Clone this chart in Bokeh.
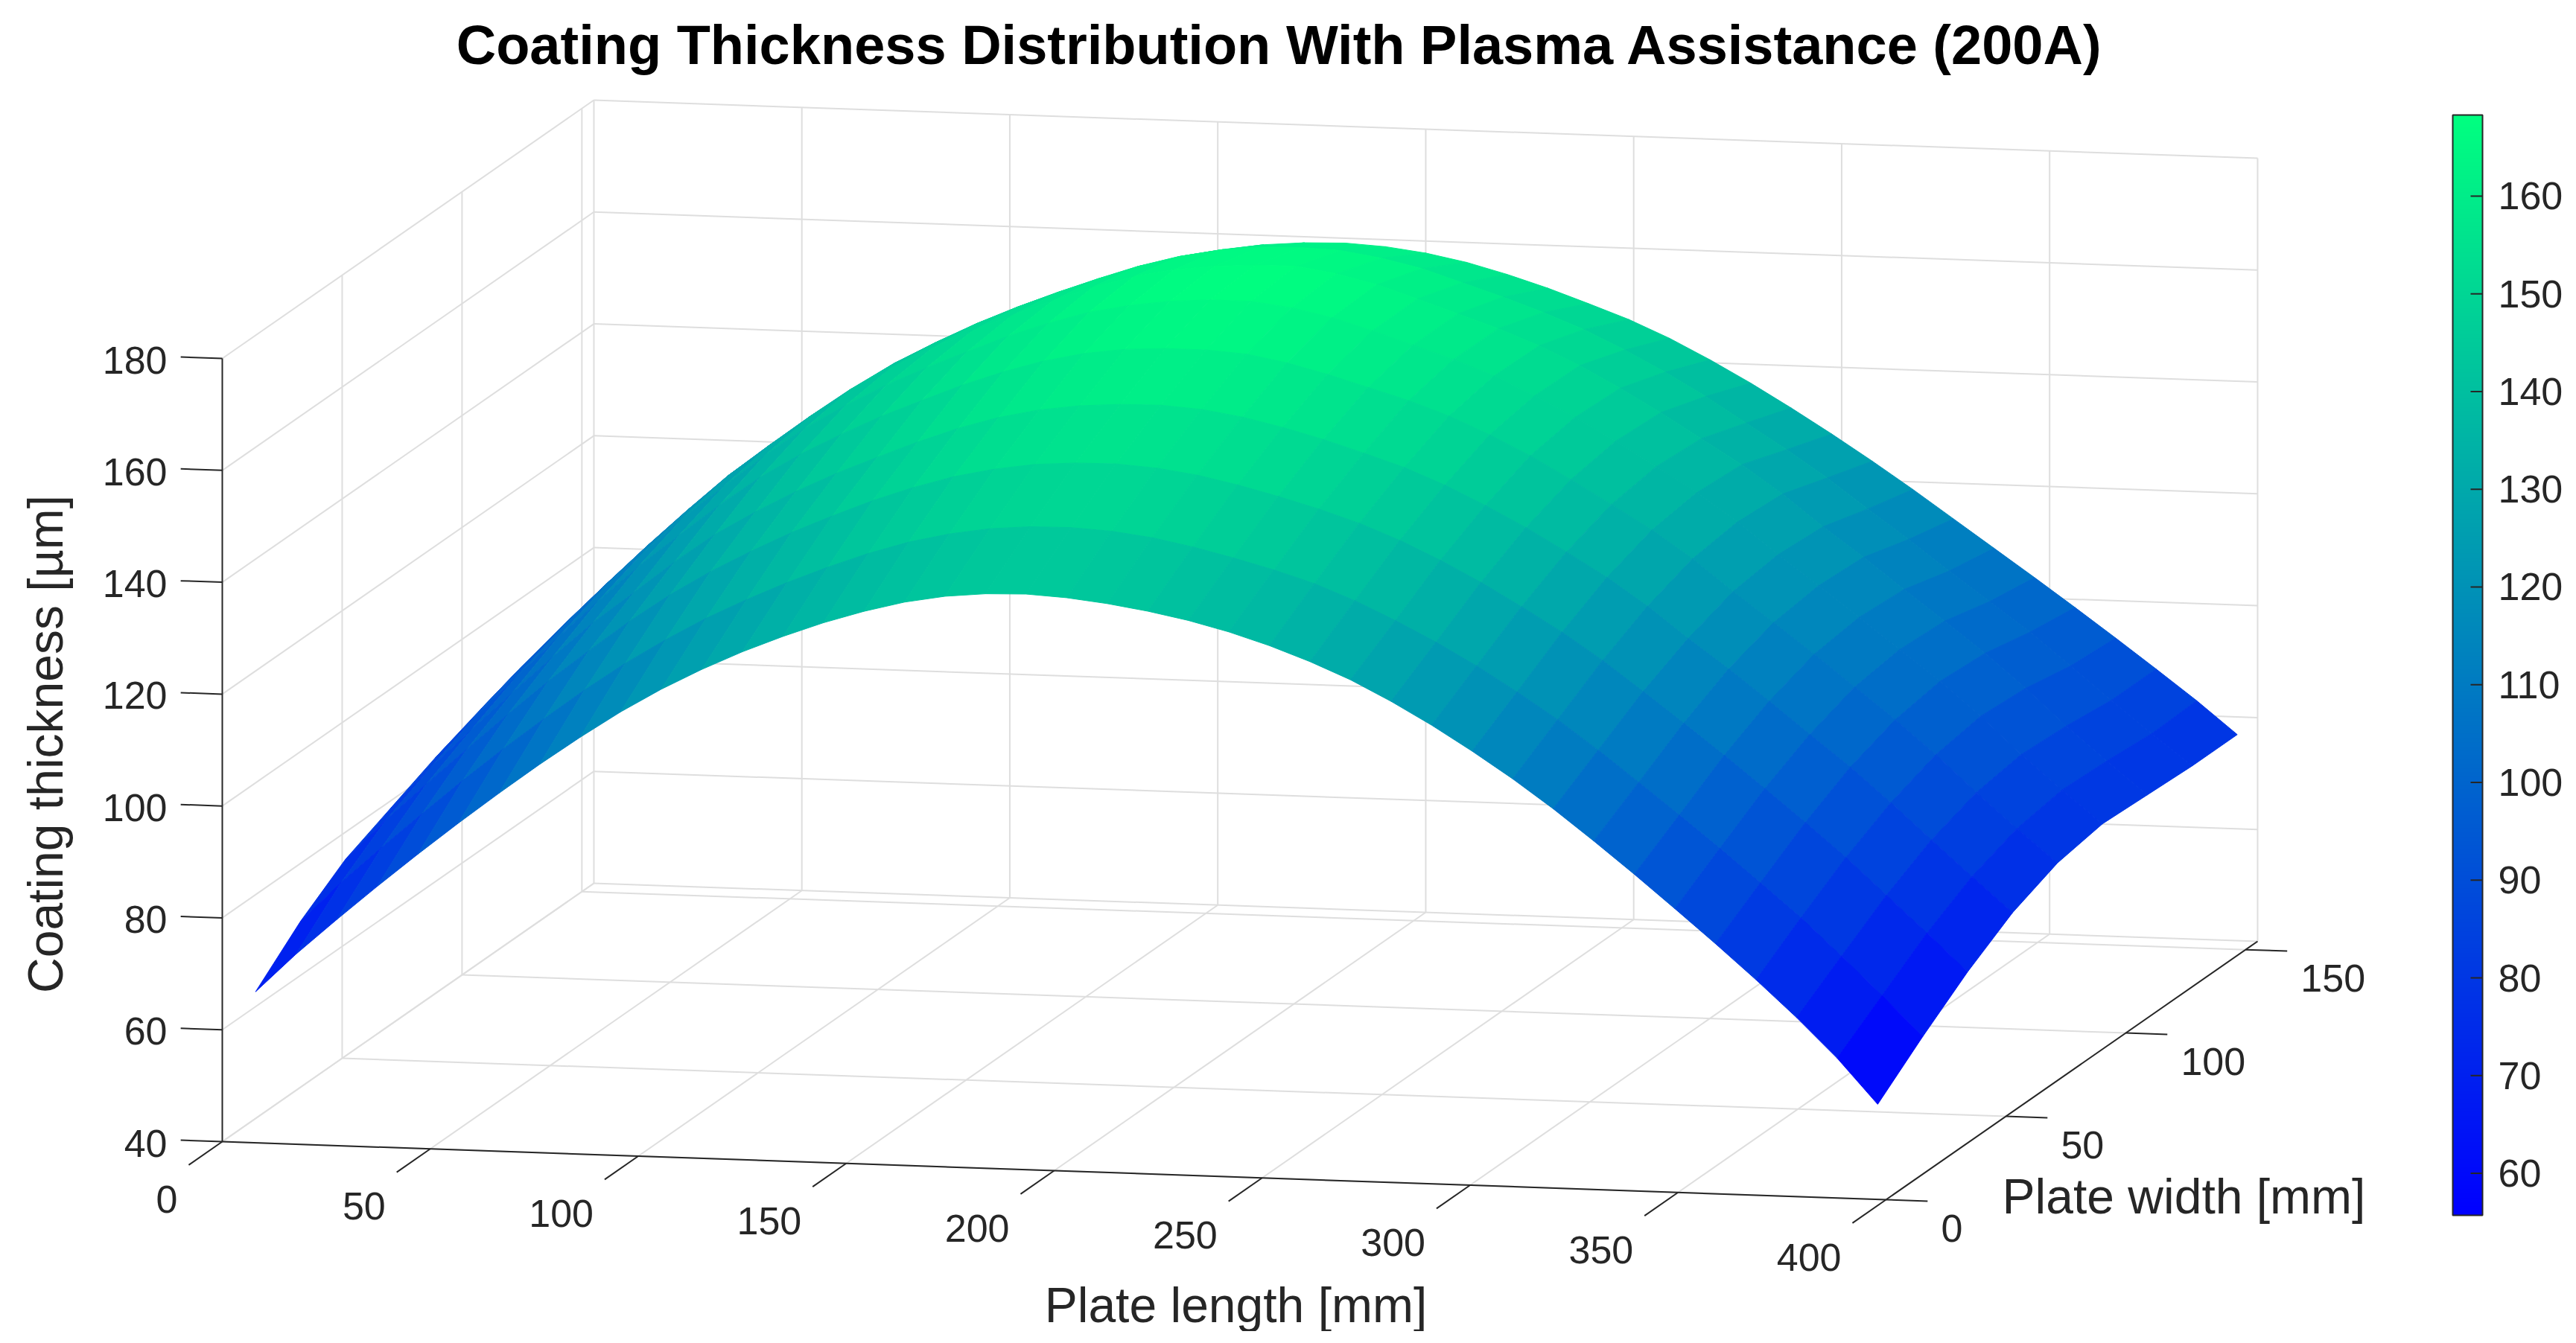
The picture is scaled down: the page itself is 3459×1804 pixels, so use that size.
from bokeh.plotting import figure
from bokeh.models import ColumnDataSource, LinearColorMapper, ColorBar, FixedTicker, Range1d
from bokeh.core.properties import value
from bokeh.embed import file_html
from bokeh.resources import INLINE
import math

TITLE = "Coating Thickness Distribution With Plasma Assistance (200A)"
X_LABEL = "Plate length [mm]"
Y_LABEL = "Plate width [mm]"
Z_LABEL = "Coating thickness [µm]"

x_ticks = [0, 50, 100, 150, 200, 250, 300, 350, 400]
y_ticks = [0, 50, 100, 150]
z_ticks = [40, 60, 80, 100, 120, 140, 160, 180]
cbar_ticks = [60, 70, 80, 90, 100, 110, 120, 130, 140, 150, 160]

x_vals = [8, 17.75, 27.5, 37.25, 47, 56.75, 66.5, 76.25, 86, 95.75, 105.5, 115.25, 125, 134.75,
          144.5, 154.25, 164, 173.75, 183.5, 193.25, 203, 212.75, 222.5, 232.25, 242, 251.75,
          261.5, 271.25, 281, 290.75, 300.5, 310.25, 320, 329.75, 339.5, 349.25, 359, 368.75,
          378.5, 388.25, 398]
y_vals = [0, 18.75, 37.5, 56.25, 75, 93.75, 112.5, 131.25, 150]

z_y0 = [67, 74, 80.4, 86.6, 92.6, 98.4, 104, 109.4, 114.5, 119.3, 123.6, 127.4, 130.8, 133.8, 136.5, 138.8, 140.7, 142, 142.7, 142.9, 142.5, 141.7, 140.6, 139.2, 137.4, 135.2, 132.6, 129.6, 126, 122, 117.6, 112.9, 107.8, 102.3, 96.6, 90.7, 84.7, 78.5, 72, 65, 57]
z_y1 = [74, 81.2, 87.7, 94, 100.2, 106.1, 111.7, 117.1, 122.1, 126.6, 130.7, 134.3, 137.6, 140.6, 143.3, 145.6, 147.3, 148.5, 149.1, 149.2, 148.8, 147.9, 146.5, 144.8, 142.9, 140.7, 137.9, 134.6, 131, 127, 122.6, 117.9, 112.7, 107.2, 101.6, 95.9, 90, 84, 77.4, 70.6, 63.5]
z_y2 = [79.5, 86.8, 93.5, 100, 106.4, 112.6, 118.3, 123.8, 128.8, 133.2, 137.1, 140.7, 143.9, 146.9, 149.5, 151.7, 153.3, 154.4, 154.9, 155, 154.5, 153.5, 152, 150.2, 148.2, 145.9, 143.1, 139.8, 136.1, 132, 127.7, 122.9, 117.6, 112.2, 106.7, 101, 95.2, 89.2, 82.7, 76.2, 69.5]
z_y3 = [83, 90.6, 97.6, 104.4, 111.1, 117.5, 123.1, 128.8, 134, 138.3, 142.2, 145.7, 148.8, 151.8, 154.5, 156.7, 158.3, 159.3, 159.8, 159.9, 159.4, 158.3, 156.7, 154.8, 152.6, 150.3, 147.4, 144, 140.3, 136.2, 131.9, 127, 121.5, 116.3, 110.8, 105.1, 99.5, 93.4, 87, 80.7, 74.5]
z_y4 = [86.5, 94.3, 101.5, 108.6, 115.4, 121.9, 127.7, 133.4, 138.6, 143, 146.8, 150.3, 153.4, 156.4, 159, 161.2, 162.8, 163.8, 164.2, 164.2, 163.7, 162.4, 160.6, 158.5, 156.4, 153.9, 150.8, 147.3, 143.3, 139.1, 134.8, 129.9, 124.3, 119, 113.6, 108, 102.4, 96.4, 89.9, 83.7, 77.8]
z_y5 = [89.5, 97.3, 104.5, 111.7, 118.5, 125.1, 130.9, 136.6, 141.8, 146.1, 150, 153.4, 156.5, 159.5, 162.1, 164.3, 165.8, 166.8, 167.3, 167.3, 166.4, 164.9, 162.8, 160.5, 158.2, 155.5, 152.2, 148.6, 144.6, 140.3, 135.9, 130.9, 125.3, 120, 114.6, 109.1, 103.7, 97.7, 91.1, 85, 79.2]
z_y6 = [92, 99.7, 106.9, 113.9, 120.6, 127, 132.6, 138, 143.1, 147.2, 150.9, 154.3, 157.4, 160.3, 163, 165.1, 166.6, 167.5, 167.9, 168, 166.9, 165.2, 162.9, 160.5, 158.1, 155.3, 152, 148.2, 144.1, 139.7, 135.3, 130.3, 124.7, 119.5, 114, 108.6, 103.1, 97.1, 90.6, 84.6, 78.8]
z_y7 = [94, 101.5, 108.4, 114.9, 121.3, 127.2, 132.4, 137.6, 142.3, 146.2, 149.8, 153, 155.9, 158.6, 161.1, 163.1, 164.5, 165.3, 165.5, 165.2, 164.1, 162.5, 160.2, 157.9, 155.4, 152.6, 149.2, 145.5, 141.4, 136.9, 132.4, 127.6, 122.3, 117.1, 111.7, 106.5, 101.3, 95.5, 89.6, 83.9, 78.4]
z_y8 = [96.5, 103.2, 109.6, 115.7, 121.5, 126.8, 131.7, 136.3, 140.4, 144.1, 147.4, 150.3, 152.9, 155.2, 157.2, 158.8, 159.9, 160.5, 160.7, 160.3, 159.4, 158, 156.1, 153.9, 151.4, 148.8, 145.7, 142.1, 138.2, 134, 129.6, 125, 120.2, 115.2, 110.2, 105.2, 100.1, 94.9, 89.6, 84.2, 78.4]
z_rows = [z_y0, z_y1, z_y2, z_y3, z_y4, z_y5, z_y6, z_y7, z_y8]

XMAX, YMAX, ZMIN, ZMAX = 400, 155, 40, 180
CMIN, CMAX = 55.7, 168.3

# orthographic projection of the MATLAB-style view, in reference pixels
def proj(x, y, z):
    return (298 + 5.585 * x + 3.219 * y, 1533 + 0.195 * x - 2.239 * y - 7.514 * (z - ZMIN))

palette = ["#%02x%02x%02x" % (0, i, round(255 - i * 127 / 255)) for i in range(256)]
mapper = LinearColorMapper(palette=palette, low=CMIN, high=CMAX)

W, H = 3443, 1788
p = figure(width=W, height=H, output_backend="svg", toolbar_location=None,
           x_range=Range1d(0, W), y_range=Range1d(H, 0),
           x_axis_type=None, y_axis_type=None, min_border=0, outline_line_color=None,
           background_fill_color="white", border_fill_color="white")
p.grid.visible = False

GRID = "#dedede"
DARK = "#262626"

def seg_set(segs, color, width):
    xs = [[proj(*a)[0], proj(*b)[0]] for a, b in segs]
    ys = [[proj(*a)[1], proj(*b)[1]] for a, b in segs]
    p.multi_line(xs, ys, line_color=color, line_width=width)

# gridlines on the back wall, left wall and floor
grid = []
for z in z_ticks:
    grid.append(((0, YMAX, z), (XMAX, YMAX, z)))
    grid.append(((0, 0, z), (0, YMAX, z)))
for x in x_ticks:
    grid.append(((x, YMAX, ZMIN), (x, YMAX, ZMAX)))
    grid.append(((x, 0, ZMIN), (x, YMAX, ZMIN)))
for y in y_ticks:
    grid.append(((0, y, ZMIN), (XMAX, y, ZMIN)))
    if y > 0:
        grid.append(((0, y, ZMIN), (0, y, ZMAX)))
seg_set(grid, GRID, 2)

# surface facets, far ones first
cx, cy, cc = [], [], []
for j in range(len(y_vals) - 2, -1, -1):
    for i in range(len(x_vals) - 1):
        corners = [(i, j), (i + 1, j), (i + 1, j + 1), (i, j + 1)]
        pts = [proj(x_vals[a], y_vals[b], z_rows[b][a]) for a, b in corners]
        cx.append([q[0] for q in pts])
        cy.append([q[1] for q in pts])
        zs = [z_rows[b][a] for a, b in corners]
        cc.append(0.5 * min(zs) + 0.5 * sum(zs) / 4)
src = ColumnDataSource(dict(xs=cx, ys=cy, c=cc))
p.patches("xs", "ys", source=src,
          fill_color={"field": "c", "transform": mapper},
          line_color={"field": "c", "transform": mapper}, line_width=1)

# axes and ticks
axes = [((0, 0, ZMIN), (XMAX, 0, ZMIN)), ((0, 0, ZMIN), (0, 0, ZMAX)), ((XMAX, 0, ZMIN), (XMAX, YMAX, ZMIN))]
for x in x_ticks:
    axes.append(((x, 0, ZMIN), (x, -14, ZMIN)))
for y in y_ticks:
    axes.append(((XMAX, y, ZMIN), (XMAX + 10, y, ZMIN)))
for z in z_ticks:
    axes.append(((0, 0, z), (-10, 0, z)))
seg_set(axes, DARK, 2)

FONT = value("Liberation Sans")

def labels(xs, ys, texts, size, align, baseline="middle", color=DARK, style="normal", angle=0):
    p.text(xs, ys, text=texts, text_font=FONT, text_font_size=value(size), text_color=color,
           text_align=align, text_baseline=baseline, text_font_style=style, angle=angle)

bx = [proj(x, 0, ZMIN) for x in x_ticks]
labels([q[0] - 60 for q in bx], [q[1] + 77 for q in bx], [str(x) for x in x_ticks], "52px", "right")
by = [proj(XMAX, y, ZMIN) for y in y_ticks]
labels([q[0] + 74 for q in by], [q[1] + 38 for q in by], [str(y) for y in y_ticks], "52px", "left")
bz = [proj(0, 0, z) for z in z_ticks]
labels([q[0] - 74 for q in bz], [q[1] + 2 for q in bz], [str(z) for z in z_ticks], "52px", "right")

labels([1718], [60], [TITLE], "74px", "center", color="#000000", style="bold")
labels([1659], [1752], [X_LABEL], "66px", "center")
labels([2932], [1606], [Y_LABEL], "66px", "center")
labels([60], [999], [Z_LABEL], "66px", "center", angle=math.pi / 2)

# colour bar: the bar and its labels from Bokeh, its inward ticks on the right-hand side
BAR_L, BAR_R, BAR_T, BAR_B = 3293, 3333, 154, 1632
cb = ColorBar(color_mapper=mapper, ticker=FixedTicker(ticks=cbar_ticks), width=BAR_R - BAR_L, height=BAR_B - BAR_T,
              location=(BAR_L, H - BAR_B), padding=0, margin=0,
              major_label_text_font="Liberation Sans", major_label_text_font_size="52px",
              major_label_text_color=DARK, label_standoff=21,
              major_tick_in=0, major_tick_out=0, major_tick_line_color=None,
              minor_tick_line_color=None, bar_line_color=DARK, bar_line_width=2,
              background_fill_color=None, border_line_color=None)
p.add_layout(cb, "center")
tick_y = [BAR_B - (t - CMIN) / (CMAX - CMIN) * (BAR_B - BAR_T) for t in cbar_ticks]
p.segment([BAR_R - 16] * len(tick_y), tick_y, [BAR_R] * len(tick_y), tick_y, line_color=DARK, line_width=2,
          level="overlay")

open("out.html", "w").write(file_html(p, INLINE))
